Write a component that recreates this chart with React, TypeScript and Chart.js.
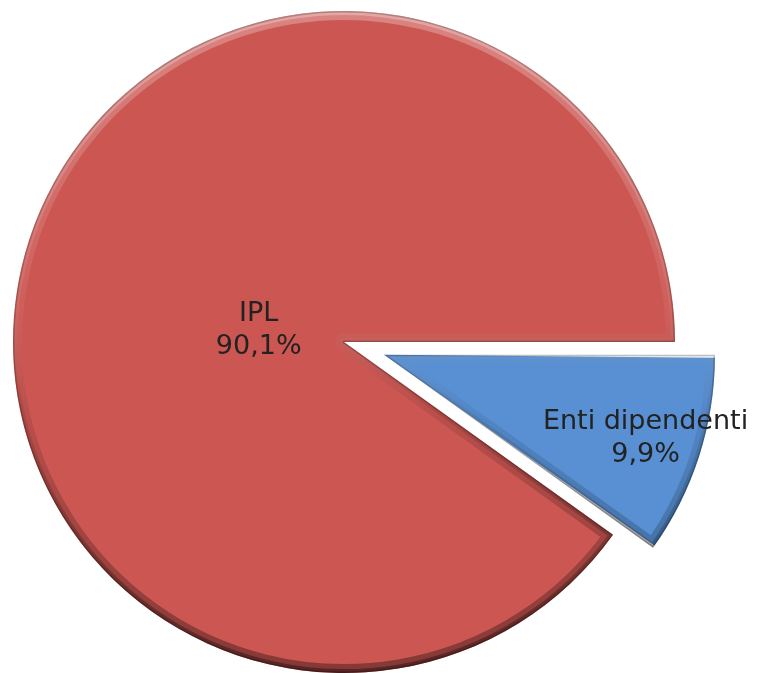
import React, { useEffect, useRef } from "react";
import { Chart, registerables } from "chart.js";

Chart.register(...registerables);

const categories = ["IPL", "Enti dipendenti"];
const values = [90.1, 9.9];
const sliceColors = ["#CB5652", "#5890D3"];
const explode = [0, 42];
const labelRadius = [0.26, 0.83];
const labelAngleShift = [-10, 0];

const PIE_RADIUS = 331;

const fixOffsetPlugin = {
  id: "fixOffset",
  beforeDatasetsDraw(chart: any) {
    const meta = chart.getDatasetMeta(0);
    const baseR = meta.controller.outerRadius;
    meta.data.forEach((el: any) => {
      const off = (el.options.offset || 0) / 4;
      const circ = el.endAngle - el.startAngle;
      const fix = 1 - Math.sin(Math.min(Math.PI, circ));
      el.outerRadius = baseR - off * fix;
    });
  },
};

const bevelPlugin = {
  id: "bevel",
  afterDatasetsDraw(chart: any) {
    const ctx = chart.ctx;
    const meta = chart.getDatasetMeta(0);
    const R = meta.controller.outerRadius;
    meta.data.forEach((el: any) => {
      const off = (el.options.offset || 0) / 4;
      const half = (el.startAngle + el.endAngle) / 2;
      const cx = el.x + Math.cos(half) * off;
      const cy = el.y + Math.sin(half) * off;
      ctx.save();
      ctx.beginPath();
      ctx.moveTo(cx, cy);
      ctx.arc(cx, cy, R, el.startAngle, el.endAngle);
      ctx.closePath();
      ctx.clip();
      const g = ctx.createLinearGradient(0, cy - R, 0, cy + R);
      g.addColorStop(0, "rgba(255,255,255,0.28)");
      g.addColorStop(0.45, "rgba(255,255,255,0.05)");
      g.addColorStop(0.6, "rgba(0,0,0,0.08)");
      g.addColorStop(1, "rgba(0,0,0,0.35)");
      ctx.lineJoin = "round";
      ctx.strokeStyle = g;
      ctx.lineWidth = 18;
      ctx.stroke();
      ctx.lineWidth = 8;
      ctx.stroke();
      ctx.strokeStyle = "rgba(0,0,0,0.22)";
      ctx.lineWidth = 3;
      ctx.stroke();
      ctx.restore();
    });
  },
};

const labelPlugin = {
  id: "sliceLabels",
  afterDatasetsDraw(chart: any) {
    const ctx = chart.ctx;
    const meta = chart.getDatasetMeta(0);
    const R = meta.controller.outerRadius;
    meta.data.forEach((el: any, i: number) => {
      const off = (el.options.offset || 0) / 4;
      const half = (el.startAngle + el.endAngle) / 2;
      const cx = el.x + Math.cos(half) * off;
      const cy = el.y + Math.sin(half) * off;
      const a = half + (labelAngleShift[i] * Math.PI) / 180;
      const lx = cx + Math.cos(a) * R * labelRadius[i];
      const ly = cy + Math.sin(a) * R * labelRadius[i];
      const lines = [
        categories[i],
        values[i].toFixed(1).replace(".", ",") + "%",
      ];
      ctx.save();
      ctx.font = '27px "DejaVu Sans"';
      ctx.fillStyle = "#222222";
      ctx.textAlign = "center";
      ctx.textBaseline = "middle";
      const lh = 33;
      lines.forEach((t, k) => {
        ctx.fillText(t, lx, ly + (k - (lines.length - 1) / 2) * lh);
      });
      ctx.restore();
    });
  },
};

export default function App() {
  const ref = useRef<HTMLCanvasElement | null>(null);
  useEffect(() => {
    if (!ref.current) return;
    const chart = new Chart(ref.current, {
      type: "pie",
      data: {
        labels: categories,
        datasets: [
          {
            data: values,
            backgroundColor: sliceColors,
            borderWidth: 0,
            offset: explode.map((e) => e * 4),
          },
        ],
      },
      options: {
        animation: false,
        responsive: false,
        rotation: 90 + (values[1] / (values[0] + values[1])) * 360,
        radius: PIE_RADIUS,
        layout: { padding: { left: 0, right: 71, top: 11, bottom: 0 } },
        plugins: {
          legend: { display: false },
          tooltip: { enabled: false },
        },
      },
      plugins: [fixOffsetPlugin, bevelPlugin, labelPlugin],
    });
    return () => chart.destroy();
  }, []);
  return (
    <div style={{ position: "fixed", left: 0, top: 0, width: 759, height: 673, background: "#fff" }}>
      <canvas ref={ref} width={759} height={673} />
    </div>
  );
}
